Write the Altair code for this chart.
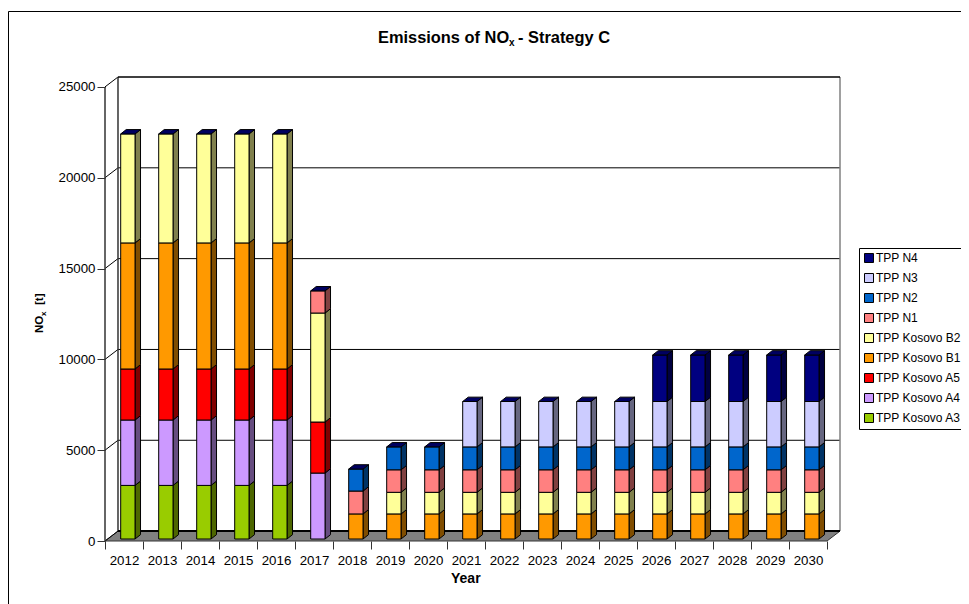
import altair as alt
import pandas as pd

FONT = "Liberation Sans"
years = list(range(2012, 2031))
series = ["TPP Kosovo A3", "TPP Kosovo A4", "TPP Kosovo A5", "TPP Kosovo B1", "TPP Kosovo B2",
          "TPP N1", "TPP N2", "TPP N3", "TPP N4"]
colors = ["#99CC00", "#CC99FF", "#FF0000", "#FF9900", "#FFFF99", "#FF8080", "#0066CC", "#CCCCFF", "#000080"]
sides = ["#4D6600", "#664D80", "#800000", "#804D00", "#80804D", "#804040", "#003366", "#666680", "#000040"]

a3 = [2950] * 5 + [0] * 14
a4 = [3600] * 5 + [3630] + [0] * 13
a5 = [2810] * 5 + [2810] + [0] * 13
b1 = [6940] * 5 + [0] + [1380] * 13
b2 = [6000] * 5 + [6000] + [0] + [1190] * 12
n1 = [0] * 5 + [1220] + [1260] + [1240] * 12
n2 = [0] * 6 + [1210] + [1260] * 12
n3 = [0] * 9 + [2500] * 10
n4 = [0] * 14 + [2560] * 5
values = [a3, a4, a5, b1, b2, n1, n2, n3, n4]
y_ticks = [0, 5000, 10000, 15000, 20000, 25000]

# geometry of the pseudo-3D box, in scale units
DX = 0.342
DY = 545
X_MAX = 19 + DX
Y_MAX = 25000 + DY
BAR_L, BAR_R = 0.413, 0.79
BAR_DX, BAR_DY = 0.145, 240
BASE = 110

fx = alt.Scale(domain=[0, X_MAX], nice=False, zero=False)
fy = alt.Scale(domain=[0, Y_MAX], nice=False, zero=False)

front, side, top = [], [], []
for i, yr in enumerate(years):
    cum = BASE
    for s, name in enumerate(series):
        v = values[s][i]
        if v > 0:
            l, r = i + BAR_L, i + BAR_R
            front.append(dict(s=name, x=l, x2=r, y=cum, y2=cum + v))
            key = f"{yr}-{s}"
            side.append(dict(k=key, c=sides[s], x=r, y=cum, y2=cum + v))
            side.append(dict(k=key, c=sides[s], x=r + BAR_DX, y=cum + BAR_DY, y2=cum + v + BAR_DY))
            cum += v
    top.append(dict(k=yr, x=i + BAR_L, x2=i + BAR_R, y=cum))
    top.append(dict(k=yr, x=i + BAR_L + BAR_DX, x2=i + BAR_R + BAR_DX, y=cum + BAR_DY))

# ticks at the category boundaries, labels centred between them
AX = alt.Axis(
    values=list(range(20)), grid=False, domain=False, tickSize=8, tickColor="#333333", tickWidth=1,
    labelExpr=f"datum.value < {len(years)} ? '' + ({years[0]} + datum.value) : ''",
    labelOffset=19, labelPadding=4, labelFont=FONT, labelFontSize=13.3, labelColor="#000000",
    labelOverlap=False, labelFlush=False, labelBound=False, labelAlign="center", title=None)
AY = alt.Axis(
    values=y_ticks, grid=False, domain=False, tickSize=8, tickColor="#333333", tickWidth=1,
    labelPadding=2, labelFont=FONT, labelFontSize=13.3, labelColor="#000000", labelOverlap=False,
    format="d", title=None)
X = lambda f="x": alt.X(f"{f}:Q", scale=fx, axis=AX)
Y = lambda f="y": alt.Y(f"{f}:Q", scale=fy, axis=AY)

grid_df = pd.DataFrame({"x": [DX] * 4, "x2": [X_MAX] * 4, "y": [t + DY for t in y_ticks[1:-1]]})
grid = alt.Chart(grid_df).mark_rule(color="#000000", strokeWidth=1).encode(x=X(), x2="x2:Q", y=Y())

diag_df = pd.DataFrame({"x": [0.0] * 6, "x2": [DX] * 6, "y": y_ticks, "y2": [t + DY for t in y_ticks]})
diag = alt.Chart(diag_df).mark_rule(color="#000000", strokeWidth=1).encode(x=X(), x2="x2:Q", y=Y(), y2="y2:Q")

floor_df = pd.DataFrame({"k": [0, 0], "x": [0, DX], "x2": [19, X_MAX], "y": [0, DY]})
floor = alt.Chart(floor_df).mark_area(fill="#808080", stroke="#333333", strokeWidth=1, orient="horizontal").encode(
    x=X(), x2="x2:Q", y=Y(), detail="k:N")

walls_df = pd.DataFrame([
    dict(x=0, x2=0, y=0, y2=25000, c="#333333", w=1.5),
    dict(x=DX, x2=DX, y=DY, y2=Y_MAX, c="#333333", w=1.5),
    dict(x=X_MAX, x2=X_MAX, y=DY, y2=Y_MAX, c="#808080", w=1.5),
    dict(x=DX, x2=X_MAX, y=Y_MAX, y2=Y_MAX, c="#000000", w=1.5),
    dict(x=DX, x2=X_MAX, y=DY, y2=DY, c="#000000", w=2),
])
walls = alt.Chart(walls_df).mark_rule().encode(
    x=X(), x2="x2:Q", y=Y(), y2="y2:Q",
    color=alt.Color("c:N", scale=None), strokeWidth=alt.StrokeWidth("w:Q", scale=None))

sides_layer = alt.Chart(pd.DataFrame(side)).mark_area(stroke="#000000", strokeWidth=1).encode(
    x=X(), y=Y(), y2="y2:Q", detail="k:N", fill=alt.Fill("c:N", scale=None))

tops_layer = alt.Chart(pd.DataFrame(top)).mark_area(
    fill="#000060", stroke="#000000", strokeWidth=1, orient="horizontal").encode(
    x=X(), x2="x2:Q", y=Y(), detail="k:N")

legend = alt.Legend(title=None, orient="none", legendX=754, legendY=171, symbolType="square", symbolSize=81,
                    symbolStrokeColor="#000000", symbolStrokeWidth=1, labelFont=FONT, labelFontSize=12,
                    labelColor="#000000", strokeColor="#000000", fillColor="#FFFFFF", padding=4, rowPadding=6,
                    labelOffset=1, labelLimit=300, symbolOpacity=1)
fronts = alt.Chart(pd.DataFrame(front)).mark_rect(stroke="#000000", strokeWidth=1).encode(
    x=X(), x2="x2:Q", y=Y(), y2="y2:Q",
    fill=alt.Fill("s:N", scale=alt.Scale(domain=series[::-1], range=colors[::-1]), legend=legend))


def label(text, x, y, size=12.5, angle=0, align="left"):
    return alt.Chart(pd.DataFrame({"t": [text]})).mark_text(
        font=FONT, fontWeight="bold", fontSize=size, align=align, baseline="alphabetic", angle=angle,
        color="#000000").encode(text="t:N", x=alt.value(x), y=alt.value(y))


OX, OY = 105, 77  # plot origin on the page
labels = [
    label("Emissions of NO", 378 - OX, 43 - OY, 16.4),
    label("x", 509 - OX, 46 - OY, 10),
    label("- Strategy C", 518 - OX, 43 - OY, 16.4),
    label("Year", 451 - OX, 583 - OY, 14),
    label("NO", 43 - OX, 333 - OY, 11.5, 270),
    label("x", 46 - OX, 316 - OY, 8, 270),
    label("[t]", 43 - OX, 305 - OY, 11.5, 270),
]

frame_df = pd.DataFrame({"a": [0]})
frame_left = alt.Chart(frame_df).mark_rule(color="#000000", strokeWidth=1).encode(
    x=alt.value(8.5 - OX), y=alt.value(11.5 - OY), y2=alt.value(620 - OY))
frame_top = alt.Chart(frame_df).mark_rule(color="#000000", strokeWidth=1).encode(
    x=alt.value(8.5 - OX), x2=alt.value(990 - OX), y=alt.value(11.5 - OY))

chart = alt.layer(
    frame_left, frame_top, grid, floor, diag, walls, sides_layer, fronts, tops_layer, *labels
).properties(
    width=735, height=464,
    autosize=alt.AutoSizeParams(type="none"),
    padding={"left": 97, "top": 69, "right": 121, "bottom": 63},
    background="#FFFFFF",
).configure_view(stroke=None)

chart.save("out.html", embed_options={"renderer": "svg", "actions": False})
